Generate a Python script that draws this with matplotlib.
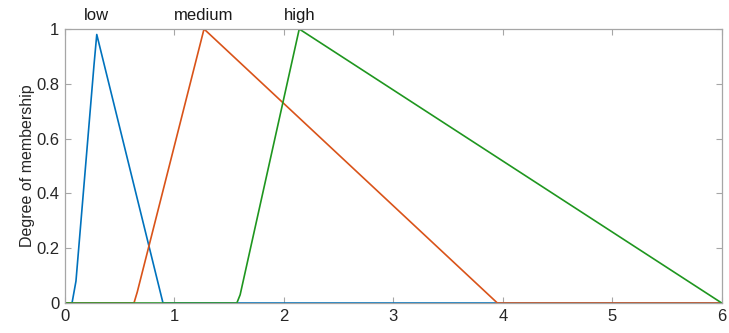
import matplotlib
matplotlib.use("Agg")
import matplotlib.pyplot as plt

# Membership functions sampled on the universe of discourse [0, 6]
low_x = [0.0, 0.064, 0.10, 0.265, 0.29, 0.895, 6.0]
low_y = [0.0, 0.0, 0.08, 0.87, 0.98, 0.0, 0.0]

medium_x = [0.0, 0.63, 0.66, 1.27, 3.95, 6.0]
medium_y = [0.0, 0.0, 0.04, 1.0, 0.0, 0.0]

high_x = [0.0, 1.57, 1.60, 2.14, 6.0]
high_y = [0.0, 0.0, 0.03, 1.0, 0.0]

labels = ["low", "medium", "high"]
label_x = [0.29, 1.27, 2.14]

x_ticks = [0, 1, 2, 3, 4, 5, 6]
y_ticks = [0, 0.2, 0.4, 0.6, 0.8, 1]

plt.rcParams["font.family"] = ["Liberation Sans", "DejaVu Sans"]

fig = plt.figure(figsize=(7.29, 3.33), dpi=100)
ax = fig.add_axes([0.0892, 0.0901, 0.9008, 0.8228])

ax.plot(low_x, low_y, color="#0072BD", lw=1.2)
ax.plot(medium_x, medium_y, color="#D95319", lw=1.2)
ax.plot(high_x, high_y, color="#1F961F", lw=1.2)

ax.set_xlim(0, 6)
ax.set_ylim(0, 1)
ax.set_xticks(x_ticks)
ax.set_yticks(y_ticks)
ax.set_xticklabels([f"{v:g}" for v in x_ticks])
ax.set_yticklabels([f"{v:g}" for v in y_ticks])

for lab, lx in zip(labels, label_x):
    ax.text(lx, 1.022, lab, ha="center", va="bottom", fontsize=12,
            color="#1a1a1a", clip_on=False)

ax.set_ylabel("Degree of membership", fontsize=11.5, color="#262626", labelpad=1)

for s in ax.spines.values():
    s.set_color("#a6a6a6")
    s.set_linewidth(0.9)
ax.tick_params(direction="in", length=4, width=0.8, color="#a6a6a6",
               top=True, right=True, labelsize=12, labelcolor="#262626", pad=4)

fig.savefig("out.png", dpi=100)
